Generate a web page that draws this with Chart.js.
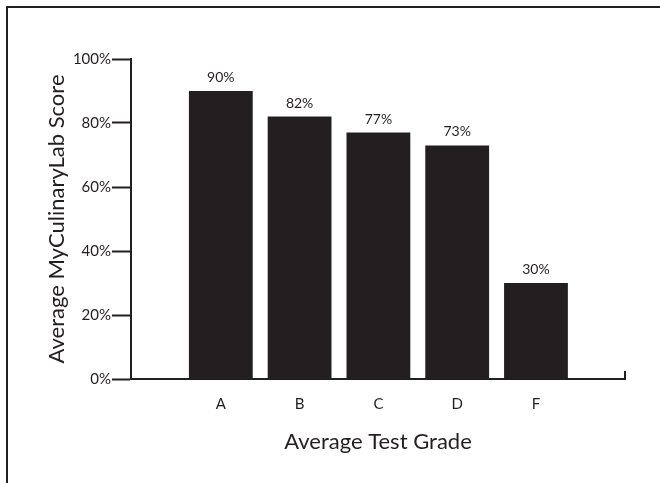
<!DOCTYPE html>
<html>
<head>
<meta charset="utf-8">
<script src="https://cdn.jsdelivr.net/npm/chart.js@4/dist/chart.umd.min.js"></script>
<style>
  body { margin: 0; background: #fff; }
  #wrap { position: relative; width: 660px; height: 483px; }
  #frame {
    position: absolute; left: 6px; top: 6px; right: 0; bottom: 0;
    border-top: 2px solid #231f20; border-left: 2px solid #231f20;
  }
  #myChart { position: absolute; left: 0; top: 0; }
</style>
</head>
<body>
<div id="wrap">
  <div id="frame"></div>
  <canvas id="myChart" width="660" height="483"></canvas>
</div>
<script>
const grades = ['A', 'B', 'C', 'D', 'F'];
const scores = [90, 82, 77, 73, 30];
const yTicks = [0, 20, 40, 60, 80, 100];

const ink = '#231f20';
const fontFamily = 'Lato, "Open Sans", sans-serif';

// value labels above each bar
const barLabels = {
  id: 'barLabels',
  afterDatasetsDraw(chart) {
    const ctx = chart.ctx;
    const meta = chart.getDatasetMeta(0);
    ctx.save();
    ctx.fillStyle = ink;
    ctx.font = '14px ' + fontFamily;
    ctx.textAlign = 'center';
    ctx.textBaseline = 'alphabetic';
    meta.data.forEach((bar, i) => {
      ctx.fillText(scores[i] + '%', bar.x, bar.y - 9);
    });
    ctx.restore();
  }
};

// small upturned end on the x axis
const axisEnd = {
  id: 'axisEnd',
  afterDraw(chart) {
    const { right, bottom } = chart.chartArea;
    const ctx = chart.ctx;
    ctx.save();
    ctx.strokeStyle = ink;
    ctx.lineWidth = 2;
    ctx.beginPath();
    ctx.moveTo(right, bottom);
    ctx.lineTo(right, bottom - 8);
    ctx.stroke();
    ctx.restore();
  }
};

const ctx = document.getElementById('myChart').getContext('2d');

new Chart(ctx, {
  type: 'bar',
  data: {
    datasets: [{
      label: 'Average MyCulinaryLab Score',
      data: scores.map((s, i) => ({ x: i, y: s })),
      backgroundColor: ink,
      borderWidth: 0,
      categoryPercentage: 1,
      barPercentage: 0.81
    }]
  },
  options: {
    responsive: false,
    animation: false,
    devicePixelRatio: 1,
    layout: { padding: { top: 59, right: 35, bottom: 0, left: 0 } },
    plugins: {
      legend: { display: false },
      tooltip: { enabled: false }
    },
    scales: {
      x: {
        type: 'linear',
        bounds: 'data',
        offset: false,
        min: -1.14,
        max: 5.13,
        afterBuildTicks: scale => {
          scale.ticks = grades.map((g, i) => ({ value: i }));
        },
        afterFit: scale => { scale.height = 104; },
        grid: { display: false, drawTicks: false, offset: false },
        border: { display: true, color: ink, width: 2 },
        ticks: {
          autoSkip: false,
          maxRotation: 0,
          padding: 16,
          color: ink,
          font: { family: fontFamily, size: 15 },
          callback: v => grades[v]
        },
        title: {
          display: true,
          text: 'Average Test Grade',
          color: ink,
          font: { family: fontFamily, size: 22 },
          padding: { top: 0, bottom: 28 }
        }
      },
      y: {
        min: 0,
        max: 100,
        afterBuildTicks: scale => {
          scale.ticks = yTicks.map(v => ({ value: v }));
        },
        afterFit: scale => { scale.width = 131; },
        grid: {
          drawOnChartArea: false,
          drawTicks: true,
          tickLength: 19,
          tickWidth: 2,
          color: ink
        },
        border: { display: true, color: ink, width: 2 },
        ticks: {
          padding: 1,
          color: ink,
          font: { family: fontFamily, size: 15 },
          callback: v => v + '%'
        },
        title: {
          display: true,
          text: 'Average MyCulinaryLab Score',
          color: ink,
          font: { family: fontFamily, size: 22 },
          padding: { top: 44, bottom: 0 }
        }
      }
    }
  },
  plugins: [barLabels, axisEnd]
});
</script>
</body>
</html>
